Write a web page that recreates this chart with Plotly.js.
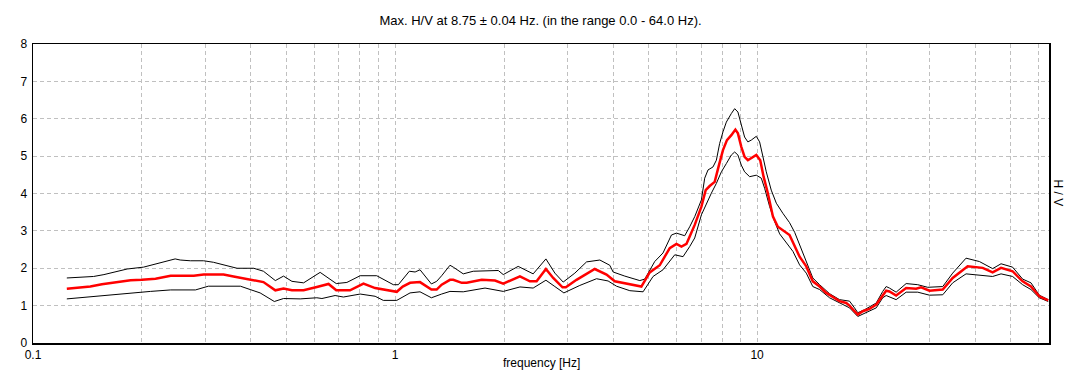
<!DOCTYPE html>
<html>
<head>
<meta charset="utf-8">
<script src="https://cdn.plot.ly/plotly-3.0.1.min.js"></script>
<style>html,body{margin:0;padding:0;background:#fff;}#chart{width:1081px;height:387px;}</style>
</head>
<body>
<div id="chart"></div>
<script>
// Mean H/V curve (red)
const freqMean = [0.124,0.134,0.144,0.155,0.167,0.186,0.200,0.218,0.240,0.278,0.296,0.336,0.358,0.398,0.433,0.467,0.492,0.519,0.559,0.608,0.655,0.688,0.751,0.818,0.881,1.011,1.050,1.100,1.172,1.260,1.303,1.345,1.418,1.448,1.528,1.577,1.735,1.888,1.990,2.213,2.358,2.460,2.610,2.734,2.901,2.963,3.171,3.562,3.837,4.045,4.357,4.790,5.051,5.383,5.737,5.986,6.180,6.380,6.513,6.724,7.017,7.210,7.396,7.635,7.845,8.048,8.255,8.488,8.709,8.851,9.043,9.235,9.430,9.638,9.949,10.20,10.42,10.71,11.06,11.41,11.91,12.29,12.62,13.10,13.67,14.25,14.88,15.52,16.19,16.89,17.62,18.00,18.58,18.97,19.58,20.43,21.33,22.23,22.72,23.20,24.21,25.80,27.49,28.38,29.92,32.56,34.69,38.15,41.97,44.72,47.18,50.77,54.11,57.07,60.16,63.70];
const hvMean = [1.45,1.48,1.51,1.57,1.61,1.68,1.69,1.72,1.80,1.80,1.83,1.83,1.78,1.69,1.63,1.41,1.46,1.41,1.41,1.50,1.58,1.41,1.41,1.59,1.47,1.37,1.51,1.61,1.63,1.43,1.43,1.56,1.69,1.69,1.61,1.61,1.69,1.67,1.59,1.78,1.65,1.65,1.98,1.74,1.49,1.49,1.69,1.98,1.83,1.65,1.59,1.51,1.89,2.08,2.54,2.65,2.58,2.65,2.85,3.16,3.65,4.09,4.20,4.31,4.76,5.16,5.43,5.56,5.71,5.61,5.25,4.98,4.89,4.94,5.03,4.89,4.45,4.00,3.38,3.11,2.98,2.89,2.65,2.31,2.05,1.65,1.51,1.34,1.23,1.12,1.07,1.00,0.85,0.76,0.85,0.91,1.03,1.29,1.40,1.38,1.27,1.47,1.45,1.49,1.40,1.43,1.74,2.05,2.01,1.89,2.01,1.92,1.65,1.51,1.25,1.14];

// Upper curve (black)
const freqUpper = [0.124,0.147,0.157,0.182,0.202,0.225,0.247,0.255,0.272,0.296,0.315,0.366,0.407,0.433,0.467,0.492,0.519,0.559,0.621,0.688,0.736,0.801,0.890,0.989,1.021,1.095,1.136,1.172,1.260,1.303,1.345,1.418,1.448,1.543,1.644,1.928,1.990,2.188,2.407,2.610,2.763,2.913,3.137,3.380,3.678,3.918,4.002,4.311,4.742,4.895,5.214,5.497,5.800,5.986,6.310,6.513,6.724,7.017,7.165,7.317,7.552,7.716,7.881,8.048,8.222,8.488,8.669,8.851,9.043,9.235,9.430,9.638,9.949,10.16,10.38,10.60,10.94,11.30,11.78,12.29,12.70,13.10,13.67,14.25,14.88,15.85,16.89,18.00,18.58,18.97,19.80,21.33,22.23,22.72,23.20,24.21,25.80,27.77,29.59,32.56,34.69,37.76,41.10,44.72,47.18,50.77,54.11,57.07,60.16,63.70];
const hvUpper = [1.74,1.78,1.83,1.98,2.03,2.14,2.25,2.22,2.20,2.20,2.16,2.00,2.00,1.92,1.67,1.79,1.65,1.61,1.89,1.59,1.62,1.80,1.80,1.56,1.56,1.92,1.90,1.96,1.58,1.65,1.80,2.08,2.03,1.85,1.92,1.94,1.83,2.05,1.85,2.25,1.87,1.63,1.87,2.17,2.22,2.08,1.90,1.79,1.67,1.71,2.18,2.41,2.89,2.94,2.87,3.11,3.38,3.83,4.41,4.63,4.71,4.89,5.34,5.65,5.91,6.14,6.27,6.18,5.83,5.51,5.38,5.43,5.53,5.38,4.98,4.58,4.09,3.74,3.47,3.22,2.96,2.62,2.18,1.74,1.56,1.32,1.16,1.12,0.94,0.81,0.89,1.07,1.38,1.51,1.47,1.36,1.59,1.56,1.49,1.51,1.87,2.27,2.18,1.99,2.12,2.03,1.71,1.61,1.28,1.16];

// Lower curve (black)
const freqLower = [0.124,0.147,0.178,0.211,0.240,0.281,0.305,0.374,0.398,0.424,0.464,0.492,0.547,0.608,0.628,0.683,0.720,0.801,0.881,0.928,1.011,1.100,1.172,1.260,1.345,1.418,1.543,1.644,1.772,1.990,2.213,2.407,2.610,2.763,2.926,3.238,3.601,3.876,4.089,4.450,4.842,5.159,5.497,5.922,6.243,6.513,6.724,7.017,7.241,7.476,7.716,7.967,8.222,8.488,8.669,8.851,9.043,9.235,9.535,9.949,10.27,10.49,10.83,11.18,11.54,12.04,12.56,13.10,13.67,14.25,14.88,15.85,16.89,18.00,18.97,20.01,21.33,22.23,22.72,24.21,25.80,27.77,29.92,32.56,34.69,37.76,44.72,47.18,50.77,54.11,57.07,60.16,63.70];
const hvLower = [1.18,1.25,1.32,1.38,1.42,1.42,1.52,1.52,1.43,1.34,1.11,1.19,1.18,1.21,1.19,1.27,1.23,1.31,1.25,1.14,1.14,1.34,1.37,1.21,1.31,1.38,1.37,1.41,1.47,1.38,1.50,1.47,1.68,1.51,1.34,1.54,1.72,1.66,1.52,1.40,1.37,1.78,1.96,2.36,2.31,2.58,2.81,3.43,3.74,4.01,4.27,4.58,4.80,5.03,5.11,5.03,4.76,4.58,4.45,4.49,4.41,4.14,3.65,3.25,2.92,2.69,2.45,2.09,1.87,1.51,1.43,1.21,1.07,0.94,0.71,0.81,0.94,1.21,1.27,1.16,1.36,1.36,1.28,1.29,1.61,1.85,1.78,1.85,1.78,1.56,1.43,1.21,1.11];

// Axis ticks / grid positions
const xGridVals = [0.1,0.2,0.3,0.4,0.5,0.6,0.7,0.8,0.9,1,2,3,4,5,6,7,8,9,10,20,30,40,50,60];
const xTickText = ['0.1','','','','','','','','','1','','','','','','','','','10','','','','',''];
const yTickVals = [0,1,2,3,4,5,6,7,8];

const titleText = 'Max. H/V at 8.75 ± 0.04 Hz. (in the range 0.0 - 64.0 Hz).';
const xTitle = 'frequency [Hz]';
const yTitle = 'H / V';

const font = {family: 'Arial, "Liberation Sans", sans-serif', size: 12, color: '#000'};
const titleFont = {family: 'Arial, "Liberation Sans", sans-serif', size: 13, color: '#000'};

const traces = [
  {x: freqUpper, y: hvUpper, type: 'scatter', mode: 'lines', line: {color: '#000', width: 1}, hoverinfo: 'skip'},
  {x: freqLower, y: hvLower, type: 'scatter', mode: 'lines', line: {color: '#000', width: 1}, hoverinfo: 'skip'},
  {x: freqMean, y: hvMean, type: 'scatter', mode: 'lines', line: {color: '#ff0000', width: 2.5}, hoverinfo: 'skip'}
];

const layout = {
  width: 1081, height: 387,
  margin: {l: 32.5, r: 32, t: 43.5, b: 43.5, pad: 0},
  paper_bgcolor: '#fff', plot_bgcolor: '#fff',
  showlegend: false,
  font: font,
  title: {text: titleText, font: titleFont, x: 0.5, xanchor: 'center', y: 1 - 20/387, yref: 'container', yanchor: 'middle'},
  xaxis: {
    type: 'log', range: [-1, Math.log10(64)],
    tickmode: 'array', tickvals: xGridVals, ticktext: xTickText,
    showgrid: true, gridcolor: '#c0c0c0', gridwidth: 1, griddash: '4px,3px',
    showline: true, linecolor: '#000', linewidth: 1.5, mirror: true,
    ticks: '', ticklen: 0, tickfont: font, zeroline: false
  },
  yaxis: {
    range: [0, 8], tickmode: 'array', tickvals: yTickVals,
    showgrid: true, gridcolor: '#c0c0c0', gridwidth: 1, griddash: '4px,3px',
    showline: true, linecolor: '#000', linewidth: 1.5, mirror: true,
    ticks: '', tickfont: font, zeroline: false, ticklabelstandoff: 2
  },
  annotations: [
    {text: xTitle, xref: 'paper', yref: 'paper', x: 0.5, y: -(364 - 343.5) / 300, xanchor: 'center', yanchor: 'middle', showarrow: false, font: font},
    {text: yTitle, xref: 'paper', yref: 'paper', x: (1059 - 32.5) / 1016.5, y: 0.5, xanchor: 'center', yanchor: 'middle', textangle: 90, showarrow: false, font: font}
  ]
};

Plotly.newPlot('chart', traces, layout, {displayModeBar: false, staticPlot: true});
</script>
</body>
</html>
